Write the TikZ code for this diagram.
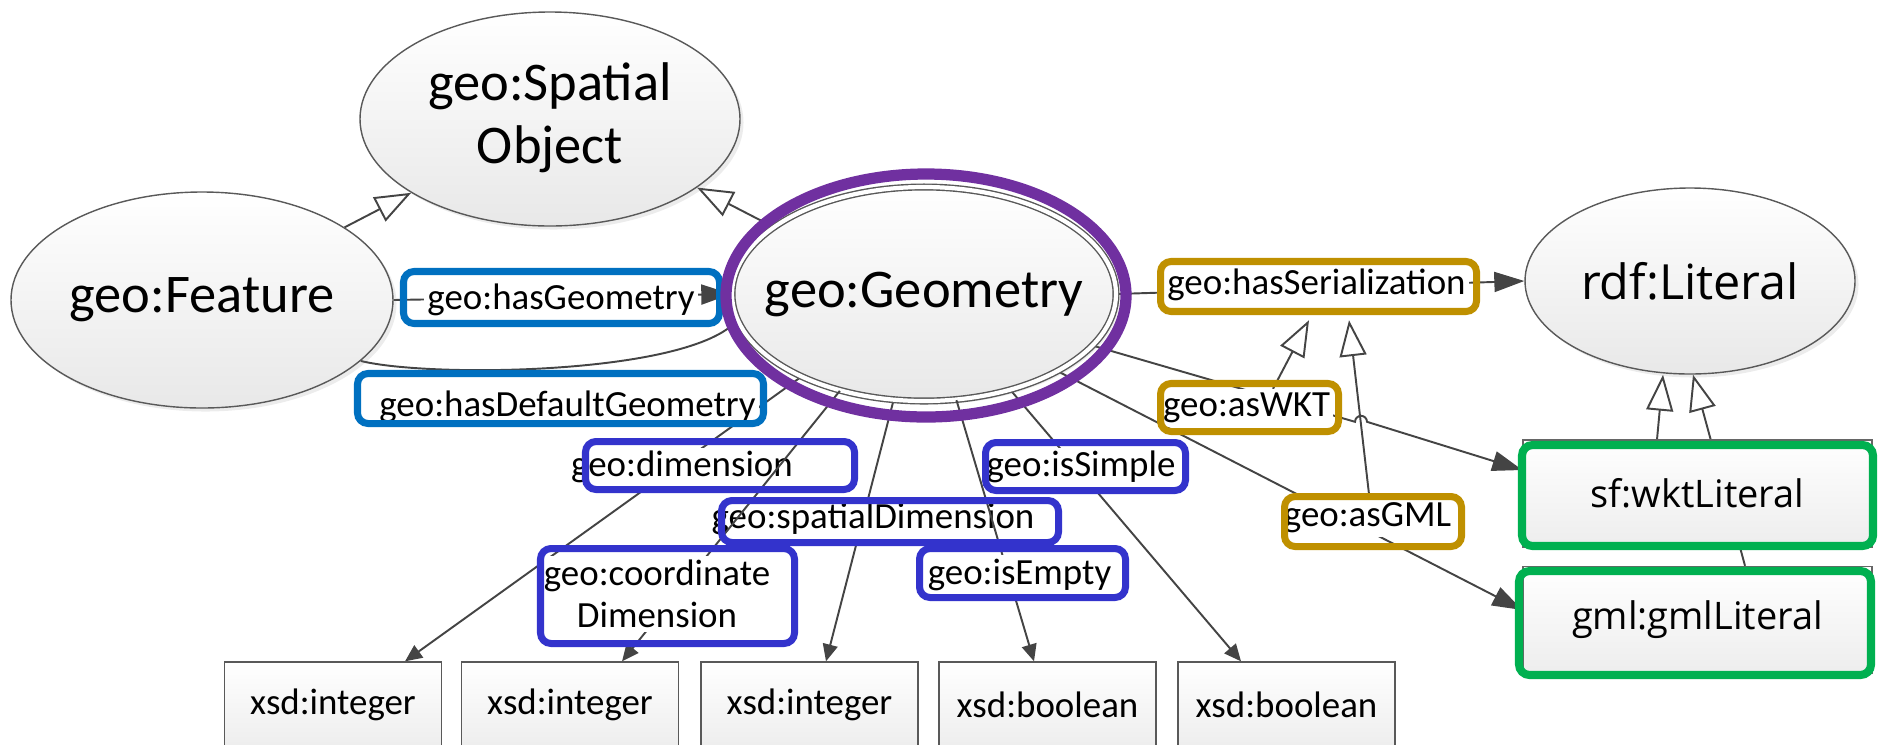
\documentclass[tikz,border=0pt]{standalone}
\usepackage{fontspec}
\setmainfont{Carlito}
\newfontfamily\litfont{Open Sans}
\usetikzlibrary{arrows.meta,positioning,calc,shapes.geometric,backgrounds,shadows}
\definecolor{hlblue}{HTML}{0070C0}
\definecolor{hlindigo}{HTML}{3333CC}
\definecolor{hlgold}{HTML}{BF9000}
\definecolor{hlgreen}{HTML}{00B050}
\definecolor{hlpurple}{HTML}{7030A0}
\definecolor{edgegray}{HTML}{444444}
\newcommand{\ctr}[1]{\makebox[0pt]{#1}}
\tikzset{
  lnk/.style={line width=0.55pt, draw=edgegray},
  bigarr/.style={lnk, -{Triangle[length=3mm, width=2mm]}},
  smallarr/.style={lnk, -{Triangle[length=1.7mm, width=1.5mm]}},
  subarr/.style={lnk, -{Triangle[length=3.6mm, width=2.7mm, fill=white]}},
  hlbox/.style={rectangle, draw=#1, line width=2pt, rounded corners=3pt, inner sep=0pt},
}

\begin{document}
\begin{tikzpicture}[
  clsnode/.style={ellipse, draw=black!65, line width=0.4pt, top color=white, bottom color=black!9,
    inner sep=0pt, drop shadow={opacity=0.15, shadow xshift=1pt, shadow yshift=-1pt},
    font=\fontsize{15.5}{18}\selectfont},
  litbox/.style={rectangle, draw=black!60, line width=0.4pt, top color=white, bottom color=black!7,
    minimum width=3.49cm, minimum height=1.07cm, font=\litfont\fontsize{10.8}{12}\selectfont},
  xsdbox/.style={rectangle, draw=black!65, line width=0.4pt, top color=white, bottom color=black!7,
    minimum width=2.17cm, minimum height=0.86cm, font=\fontsize{10.5}{12}\selectfont},
  proplbl/.style={fill=white, inner sep=1pt, align=center, font=\fontsize{10.5}{12}\selectfont},
]
  \useasboundingbox (0,0) rectangle (18.83,-7.44);

  \node[clsnode, minimum width=3.80cm, minimum height=2.14cm] (spatial) at (5.50,-1.19)
    {\ctr{\begin{tabular}{@{}c@{}}geo:Spatial\\Object\end{tabular}}};
  \node[clsnode, minimum width=3.82cm, minimum height=2.16cm] (feat) at (2.02,-3.00) {\ctr{geo:Feature}};
  \node[clsnode, double=white, double distance=1.2pt, minimum width=3.84cm, minimum height=2.14cm]
    (geom) at (9.24,-2.94) {\ctr{geo:Geometry}};
  \node[clsnode, font=\litfont\fontsize{13.8}{16}\selectfont, minimum width=3.30cm, minimum height=1.86cm]
    (rdf) at (16.90,-2.81) {\ctr{rdf:Literal}};
  \node[litbox] (wkt) at (16.975,-4.935) {sf:wktLiteral};
  \node[litbox] (gml) at (16.975,-6.20) {gml:gmlLiteral};
  \foreach \n/\x/\t in {int1/3.33/integer, int2/5.70/integer, int3/8.095/integer,
                        bool1/10.475/boolean, bool2/12.865/boolean}
    \node[xsdbox] (\n) at (\x,-7.05) {xsd:\t};
  \coordinate (hopa) at (13.55,-4.218);

  \begin{scope}[on background layer]
    \draw[subarr] (feat.27) -- (spatial.208);
    \draw[subarr] (geom.156) -- (spatial.335);
    \draw[bigarr] (feat.east) -- (geom.west);
    \draw[lnk] (feat.339) .. controls (4.30,-3.78) and (6.90,-3.75) .. (geom.188);
    \foreach \a/\n/\s in {214/int1/0.72, 254/int3/0.165, 312/bool2/-0.455}
      \draw[smallarr] (geom.\a) -- ([xshift=\s cm]\n.north);
    \draw[bigarr] (geom.east) -- (rdf.west);
    \draw[bigarr] (geom.343) -- (hopa) arc[start angle=180, end angle=0, radius=0.06]
      -- ([yshift=0.235cm]wkt.west);
    \draw[bigarr] (geom.330) -- ([yshift=0.1cm]gml.west);
    \draw[subarr] ([xshift=-0.405cm]wkt.north) -- ([xshift=-0.27cm]rdf.south);
    \draw[subarr] ([xshift=0.475cm]gml.north) -- ([xshift=0.03cm]rdf.south);
  \end{scope}

  \node[proplbl] (lHasGeom) at (5.61,-3.00) {geo:hasGeometry};
  \node[proplbl] (lDefGeom) at (5.675,-4.07) {geo:hasDefaultGeometry};
  \node[proplbl] (lDim) at (6.82,-4.67) {geo:dimension};
  \node[proplbl] (lSpDim) at (8.73,-5.19) {geo:spatialDimension};
  \draw[smallarr] (geom.229) -- ([xshift=0.52cm]int2.north);
  \draw[smallarr] (geom.287) -- ([xshift=-0.135cm]bool1.north);
  \node[proplbl] (lCoDim) at (6.57,-5.94) {geo:coordinate\\Dimension};
  \node[proplbl] (lEmpty) at (10.195,-5.745) {geo:isEmpty};
  \node[proplbl] (lSimple) at (10.81,-4.67) {geo:isSimple};
  \node[proplbl] (lSer) at (13.165,-2.85) {geo:hasSerialization};
  \node[proplbl] (lWkt) at (12.465,-4.08) {geo:asWKT};
  \node[proplbl] (lGml) at (13.675,-5.18) {geo:asGML};

  \begin{scope}[on background layer]
    \draw[subarr] ([xshift=0.265cm]lWkt.north) -- ([xshift=-0.075cm, yshift=-0.15cm]lSer.south);
    \draw[subarr] ([xshift=0.02cm]lGml.north) -- ([xshift=0.325cm, yshift=-0.15cm]lSer.south);
  \end{scope}

  \node[hlbox=hlblue, minimum width=3.16cm, minimum height=0.52cm] (bHasGeom) at (5.615,-2.975) {};
  \node[hlbox=hlblue, minimum width=4.06cm, minimum height=0.50cm] (bDefGeom) at (5.605,-3.985) {};
  \node[hlbox=hlindigo, minimum width=2.69cm, minimum height=0.48cm] (bDim) at (7.20,-4.655) {};
  \node[hlbox=hlindigo, minimum width=3.37cm, minimum height=0.42cm] (bSpDim) at (8.90,-5.215) {};
  \node[hlbox=hlindigo, minimum width=2.54cm, minimum height=0.95cm] (bCoDim) at (6.675,-5.96) {};
  \node[hlbox=hlindigo, minimum width=2.00cm, minimum height=0.48cm] (bSimple) at (10.855,-4.665) {};
  \node[hlbox=hlindigo, minimum width=2.06cm, minimum height=0.49cm] (bEmpty) at (10.225,-5.73) {};
  \node[hlbox=hlgold, minimum width=3.16cm, minimum height=0.50cm] (bSer) at (13.185,-2.865) {};
  \node[hlbox=hlgold, minimum width=1.78cm, minimum height=0.48cm] (bWkt) at (12.495,-4.075) {};
  \node[hlbox=hlgold, minimum width=1.77cm, minimum height=0.50cm] (bGml) at (13.73,-5.215) {};
  \node[hlbox=hlgreen, line width=2.3pt, minimum width=3.51cm, minimum height=1.01cm] (bWktLit) at (16.975,-4.955) {};
  \node[hlbox=hlgreen, line width=2.3pt, minimum width=3.52cm, minimum height=1.04cm] (bGmlLit) at (16.95,-6.23) {};
  \node[ellipse, draw=hlpurple, line width=3.2pt, inner sep=0pt, minimum width=4.00cm,
    minimum height=2.43cm] (ring) at (9.26,-2.955) {};
\end{tikzpicture}
\end{document}
